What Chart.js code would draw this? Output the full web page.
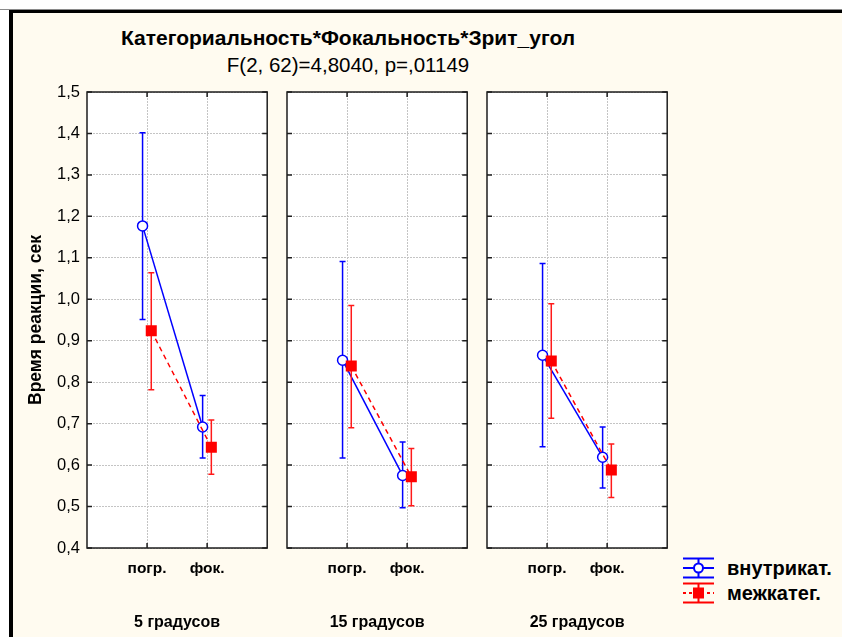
<!DOCTYPE html>
<html><head><meta charset="utf-8">
<script src="https://cdn.jsdelivr.net/npm/chart.js@4.4.0/dist/chart.umd.min.js"></script>
<style>
html,body{margin:0;padding:0;width:842px;height:637px;overflow:hidden;background:#fff;font-family:"Liberation Sans",Arial,sans-serif;}
#gray{position:absolute;left:0;top:9px;width:842px;height:1px;background:#8a8a8a;}
#frame{position:absolute;left:9px;top:10px;width:833px;height:627px;background:#fffbf0;border-left:4px solid #000;border-top:3px solid #000;box-sizing:border-box;}
.cv{position:absolute;top:0;height:637px;}
#title{position:absolute;left:0;width:696px;top:26px;text-align:center;font-weight:bold;font-size:21px;line-height:24px;color:#000;}
#sub{position:absolute;left:0;width:696px;top:53px;text-align:center;font-size:20.5px;line-height:24px;color:#000;}
.lg{position:absolute;left:727px;font-weight:bold;font-size:20px;line-height:22px;color:#000;}
</style></head>
<body>
<div id="gray"></div>
<div id="frame"></div>
<div id="title">Категориальность*Фокальность*Зрит_угол</div>
<div id="sub">F(2, 62)=4,8040, p=,01149</div>
<div class="cv" style="left:0;width:275px"><canvas id="c0"></canvas></div>
<div class="cv" style="left:275px;width:200px"><canvas id="c1"></canvas></div>
<div class="cv" style="left:475px;width:200px"><canvas id="c2"></canvas></div>
<svg style="position:absolute;left:680px;top:552px" width="40" height="56">
  <g stroke="#0000ff" stroke-width="2" fill="none">
    <line x1="3" y1="6.5" x2="34" y2="6.5"/>
    <line x1="3" y1="25.5" x2="34" y2="25.5"/>
    <line x1="3" y1="16" x2="34" y2="16"/>
    <line x1="18.5" y1="6.5" x2="18.5" y2="25.5"/>
    <circle cx="18.5" cy="16" r="4.5" fill="#fff"/>
  </g>
  <g stroke="#ff0000" stroke-width="2" fill="none">
    <line x1="3" y1="31.5" x2="34" y2="31.5"/>
    <line x1="3" y1="50.5" x2="34" y2="50.5"/>
    <line x1="3" y1="41" x2="34" y2="41" stroke-dasharray="3,3"/>
    <line x1="18.5" y1="31.5" x2="18.5" y2="50.5"/>
    <rect x="13" y="35.5" width="11" height="11" fill="#ff0000" stroke="none"/>
  </g>
</svg>
<div class="lg" style="top:557px">внутрикат.</div>
<div class="lg" style="top:582px">межкатег.</div>
<script>
const xLabels = ['погр.', 'фок.'];
const xTickValues = [1, 2];
const groupLabels = ['5 градусов', '15 градусов', '25 градусов'];
const yTickValues = [0.4, 0.5, 0.6, 0.7, 0.8, 0.9, 1.0, 1.1, 1.2, 1.3, 1.4, 1.5];
const yTickLabels = ['0,4', '0,5', '0,6', '0,7', '0,8', '0,9', '1,0', '1,1', '1,2', '1,3', '1,4', '1,5'];
const seriesNames = ['внутрикат.', 'межкатег.'];

// внутрикат. (per panel: [погр., фок.])
const withinMean5 = [1.177, 0.692];
const withinMean15 = [0.853, 0.575];
const withinMean25 = [0.865, 0.619];
const withinUpper5 = [1.402, 0.768];
const withinUpper15 = [1.091, 0.656];
const withinUpper25 = [1.086, 0.692];
const withinLower5 = [0.951, 0.617];
const withinLower15 = [0.617, 0.497];
const withinLower25 = [0.644, 0.545];

// межкатег.
const betweenMean5 = [0.924, 0.643];
const betweenMean15 = [0.839, 0.572];
const betweenMean25 = [0.851, 0.588];
const betweenUpper5 = [1.064, 0.709];
const betweenUpper15 = [0.985, 0.640];
const betweenUpper25 = [0.989, 0.651];
const betweenLower5 = [0.782, 0.578];
const betweenLower15 = [0.690, 0.502];
const betweenLower25 = [0.713, 0.522];

const panels = [
  {wm: withinMean5, wu: withinUpper5, wl: withinLower5, bm: betweenMean5, bu: betweenUpper5, bl: betweenLower5},
  {wm: withinMean15, wu: withinUpper15, wl: withinLower15, bm: betweenMean15, bu: betweenUpper15, bl: betweenLower15},
  {wm: withinMean25, wu: withinUpper25, wl: withinLower25, bm: betweenMean25, bu: betweenUpper25, bl: betweenLower25}
];

Chart.defaults.font.family = '"Liberation Sans", Arial, sans-serif';
Chart.defaults.color = '#000';

const errorBarPlugin = {
  id: 'errbars',
  beforeDatasetDraw(chart, args) {
    const ds = chart.data.datasets[args.index];
    if (!ds.errHi) return;
    const {ctx, scales: {x, y}} = chart;
    ctx.save();
    ctx.strokeStyle = ds.errColor;
    ctx.lineWidth = 1.5;
    ds.data.forEach((pt, i) => {
      const px = x.getPixelForValue(pt.x);
      const yh = y.getPixelForValue(ds.errHi[i]);
      const yl = y.getPixelForValue(ds.errLo[i]);
      ctx.beginPath();
      ctx.moveTo(px, yh); ctx.lineTo(px, yl);
      ctx.moveTo(px - 3, yh); ctx.lineTo(px + 3, yh);
      ctx.moveTo(px - 3, yl); ctx.lineTo(px + 3, yl);
      ctx.stroke();
    });
    ctx.restore();
  }
};

const framePlugin = {
  id: 'frame',
  beforeDraw(chart) {
    const {ctx, chartArea: a} = chart;
    ctx.save();
    ctx.fillStyle = '#fff';
    ctx.fillRect(a.left, a.top, a.right - a.left, a.bottom - a.top);
    ctx.restore();
  },
  afterDraw(chart) {
    const {ctx, chartArea: a, scales: {x, y}} = chart;
    ctx.save();
    ctx.strokeStyle = '#1e1e1e';
    ctx.lineWidth = 1.5;
    ctx.strokeRect(a.left, a.top, a.right - a.left, a.bottom - a.top);
    ctx.beginPath();
    const L = 5;
    y.ticks.forEach(t => {
      const py = y.getPixelForValue(t.value);
      ctx.moveTo(a.left, py); ctx.lineTo(a.left + L, py);
      ctx.moveTo(a.right, py); ctx.lineTo(a.right - L, py);
    });
    x.ticks.forEach(t => {
      const px = x.getPixelForValue(t.value);
      ctx.moveTo(px, a.top); ctx.lineTo(px, a.top + L);
      ctx.moveTo(px, a.bottom); ctx.lineTo(px, a.bottom - L);
    });
    ctx.stroke();
    ctx.restore();
  }
};

function makePanel(p) {
  const d = panels[p];
  const first = p === 0;
  return new Chart(document.getElementById('c' + p), {
    type: 'scatter',
    data: {
      datasets: [
        {
          label: seriesNames[1],
          data: xTickValues.map((v, i) => ({x: v + 0.07, y: d.bm[i]})),
          errHi: d.bu, errLo: d.bl, errColor: '#ff1a1a',
          showLine: true, borderColor: '#ff0000', borderWidth: 1.5, borderDash: [5, 4],
          pointStyle: 'rect', pointRadius: 7.8, pointBackgroundColor: '#ff0000', pointBorderWidth: 0,
          pointBorderColor: '#ff0000', order: 0
        },
        {
          label: seriesNames[0],
          data: xTickValues.map((v, i) => ({x: v - 0.075, y: d.wm[i]})),
          errHi: d.wu, errLo: d.wl, errColor: '#0000ff',
          showLine: true, borderColor: '#0000ff', borderWidth: 1.5,
          pointStyle: 'circle', pointRadius: 5, pointBackgroundColor: '#ffffff', pointBorderWidth: 1.5,
          pointBorderColor: '#0000ff', order: 1
        }
      ]
    },
    options: {
      responsive: true, maintainAspectRatio: false, animation: false,
      layout: {padding: {left: 0, right: 7, top: 92, bottom: 0}},
      plugins: {legend: {display: false}, tooltip: {enabled: false}},
      scales: {
        x: {
          type: 'linear', min: 0, max: 3,
          afterBuildTicks: s => { s.ticks = xTickValues.map(v => ({value: v})); },
          afterFit: s => { s.height = 89; },
          grid: {color: '#c4c4c4', lineWidth: 1, drawTicks: false},
          border: {display: false, dash: [2, 1]},
          ticks: {padding: 11, font: {size: 15.5, weight: 'bold'}, callback: (v, i) => xLabels[i], maxRotation: 0},
          title: {display: true, text: groupLabels[p], font: {size: 16, weight: 'bold'}, padding: {top: 0, bottom: 5}}
        },
        y: {
          type: 'linear', min: 0.4, max: 1.5,
          afterBuildTicks: s => { s.ticks = yTickValues.map(v => ({value: v})); },
          afterFit: s => { s.width = first ? 87 : 12; },
          grid: {color: '#c4c4c4', lineWidth: 1, drawTicks: false},
          border: {display: false, dash: [2, 1]},
          ticks: {display: first, padding: 7, font: {size: 16.5}, callback: (v, i) => yTickLabels[i]},
          title: {display: first, text: 'Время реакции, сек', font: {size: 17.5, weight: 'bold'}, padding: {top: 26, bottom: 0}}
        }
      }
    },
    plugins: [framePlugin, errorBarPlugin]
  });
}
[0, 1, 2].forEach(makePanel);
</script>
</body></html>
